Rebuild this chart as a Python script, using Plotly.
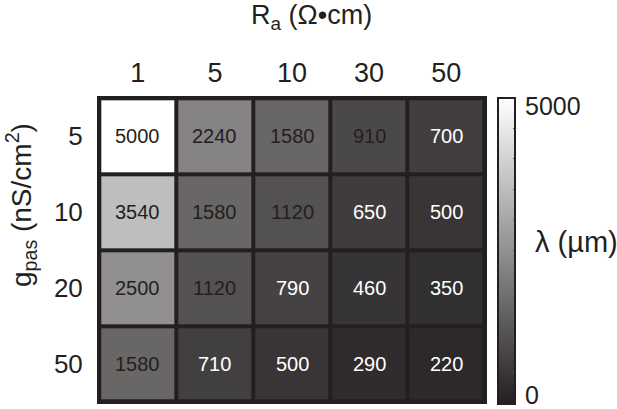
import plotly.graph_objects as go

ra_labels = ["1", "5", "10", "30", "50"]
gpas_labels = ["5", "10", "20", "50"]
lam_values = [
    [5000, 2240, 1580, 910, 700],
    [3540, 1580, 1120, 650, 500],
    [2500, 1120, 790, 460, 350],
    [1580, 710, 500, 290, 220],
]
lam_min, lam_max = 0, 5000
cbar_tickvals = [0, 500, 1000, 1500, 2000, 2500, 3000, 3500, 4000, 4500, 5000]

dark = "#231f20"
fnt = "Liberation Sans, Arial, sans-serif"

fig = go.Figure()
fig.add_trace(go.Heatmap(
    z=lam_values, x=ra_labels, y=gpas_labels,
    zmin=lam_min, zmax=lam_max,
    colorscale=[[0, dark], [1, "#ffffff"]],
    xgap=4, ygap=4,
    hoverinfo="skip",
    colorbar=dict(
        x=1.028, xanchor="left", xpad=0, y=0.995, yanchor="top", ypad=0,
        lenmode="pixels", len=306, thickness=17,
        outlinewidth=2, outlinecolor=dark,
        tickvals=cbar_tickvals, showticklabels=False,
        ticks="inside", ticklen=3, tickcolor="#666666",
    ),
))

# cell labels
for i, row in enumerate(lam_values):
    for j, v in enumerate(row):
        fig.add_annotation(
            x=j, y=i, xref="x", yref="y", text=str(v), showarrow=False,
            font=dict(size=20, family=fnt, color=dark if v >= 900 else "white"),
        )

# colour bar end labels
fig.add_annotation(
    xref="paper", yref="paper", x=1.092, y=1.018, xanchor="left", yanchor="top",
    text=str(lam_max), showarrow=False, font=dict(size=25, family=fnt, color=dark),
)
fig.add_annotation(
    xref="paper", yref="paper", x=1.092, y=-0.022, xanchor="left", yanchor="bottom",
    text=str(lam_min), showarrow=False, font=dict(size=25, family=fnt, color=dark),
)

fig.add_annotation(
    xref="paper", yref="paper", x=0.55, y=1.255, xanchor="center", yanchor="middle",
    text="R<sub>a</sub> (Ω•cm)", showarrow=False, font=dict(size=27, family=fnt, color=dark),
)
fig.add_annotation(
    xref="paper", yref="paper", x=-0.195, y=0.646, xanchor="center", yanchor="middle",
    textangle=-90, text="g<sub>pas</sub> (nS/cm<sup>2</sup>)", showarrow=False,
    font=dict(size=28, family=fnt, color=dark),
)
fig.add_annotation(
    xref="paper", yref="paper", x=1.118, y=0.527, xanchor="left", yanchor="middle",
    text="λ (µm)", showarrow=False, font=dict(size=29, family=fnt, color=dark),
)

fig.update_xaxes(
    type="category", side="top", range=[-0.53, 4.53], automargin=False,
    showgrid=False, zeroline=False, ticks="outside", ticklen=2, tickcolor="rgba(0,0,0,0)",
    tickfont=dict(size=27, family=fnt, color=dark),
)
fig.update_yaxes(
    type="category", range=[3.53, -0.53], automargin=False,
    showgrid=False, zeroline=False, ticks="outside", ticklen=8, tickcolor="rgba(0,0,0,0)",
    tickfont=dict(size=26, family=fnt, color=dark),
)
fig.update_layout(
    width=617, height=409,
    margin=dict(l=97, r=130, t=96, b=5),
    plot_bgcolor=dark, paper_bgcolor="white",
    showlegend=False,
)

fig.write_html("out.html", config={"displayModeBar": False},
               post_script="document.body.style.margin='0';")
